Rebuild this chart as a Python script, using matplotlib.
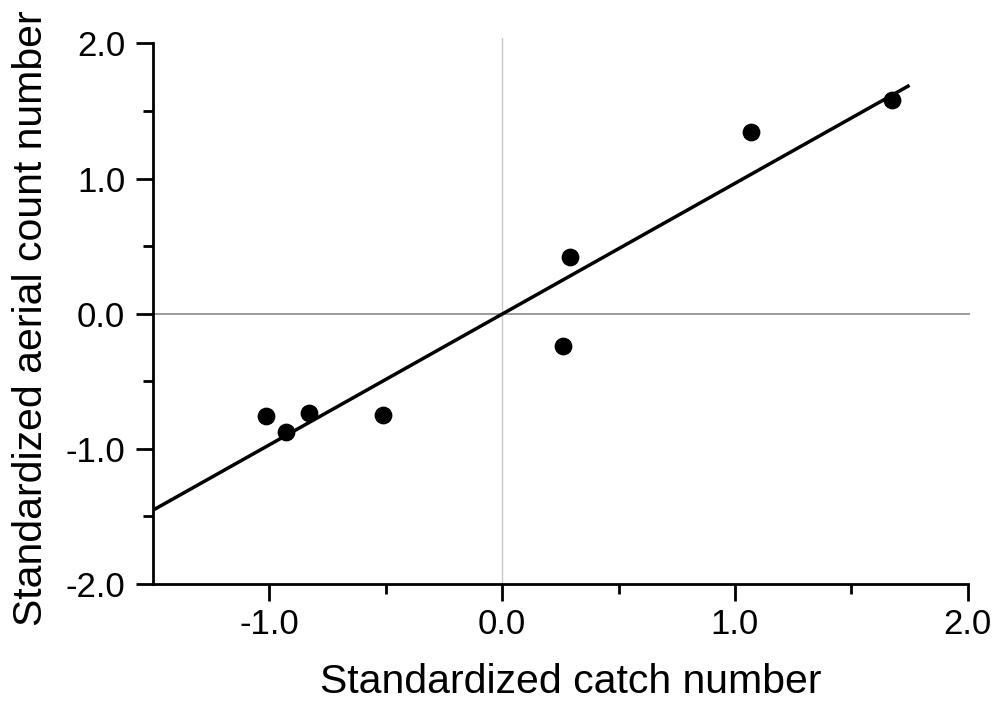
import matplotlib
matplotlib.use('Agg')
import matplotlib.pyplot as plt
import numpy as np

plt.rcParams['font.family'] = ['Liberation Sans', 'DejaVu Sans']

# standardized values
catch_z = [-1.015, -0.93, -0.83, -0.513, 0.26, 0.29, 1.07, 1.676]
aerial_z = [-0.758, -0.876, -0.735, -0.75, -0.24, 0.418, 1.348, 1.578]
fit_range = [-1.5, 1.75]

x_major = [-1.0, 0.0, 1.0, 2.0]
x_minor = [-0.5, 0.5, 1.5]
y_major = [-2.0, -1.0, 0.0, 1.0, 2.0]
y_minor = [-1.5, -0.5, 0.5, 1.5]

fig = plt.figure(figsize=(9.93, 7.02), dpi=100)
ax = fig.add_axes([0.1541, 0.1681, 0.8228, 0.7778])

ax.set_xlim(-1.5, 2.01)
ax.set_ylim(-2.0, 2.04)

# reference lines through origin
ax.axvline(0, color='#c8c8c8', lw=1.0, zorder=1)
ax.axhline(0, color='#8a8a8a', lw=1.2, zorder=1)

# regression line
slope, icpt = np.polyfit(catch_z, aerial_z, 1)
xs = np.array(fit_range)
ax.plot(xs, slope * xs + icpt, color='black', lw=2.5, zorder=2, solid_capstyle='butt')

ax.plot(catch_z, aerial_z, 'o', color='black', ms=11.8, zorder=3)

for s in ['top', 'right']:
    ax.spines[s].set_visible(False)
ax.spines['left'].set_bounds(-2.0, 2.0)
ax.spines['bottom'].set_bounds(-1.5, 2.0)
for s in ['left', 'bottom']:
    ax.spines[s].set_linewidth(2.0)

ax.set_xticks(x_major)
ax.set_xticks(x_minor, minor=True)
ax.set_yticks(y_major)
ax.set_yticks(y_minor, minor=True)
ax.set_xticklabels([f'{v:.1f}' for v in x_major])
ax.set_yticklabels([f'{v:.1f}' for v in y_major])
ax.tick_params(which='major', length=12, width=2.0, labelsize=25)
ax.tick_params(which='minor', length=7.5, width=2.0)
ax.tick_params(axis='x', which='major', pad=5)
ax.tick_params(axis='y', which='major', pad=8)

ax.set_xlabel('Standardized catch number', fontsize=29.5)
ax.set_ylabel('Standardized aerial count number', fontsize=29.5)
ax.xaxis.set_label_coords(0.511, -0.145)
ax.yaxis.set_label_coords(-0.126, 0.487)

fig.savefig('out.png', dpi=100)
